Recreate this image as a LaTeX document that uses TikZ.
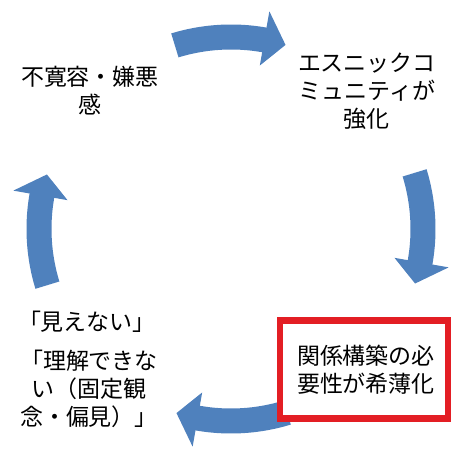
\documentclass[tikz,border=0pt]{standalone}
\usepackage{fontspec}
\setmainfont{Noto Sans CJK JP}
\usetikzlibrary{calc}
\definecolor{arrowblue}{RGB}{79,129,189}
\definecolor{boxred}{RGB}{227,30,36}
\tikzset{
  label text/.style={align=center, inner sep=0pt, font=\fontsize{23}{28}\selectfont},
  redbox/.style={draw=boxred, line width=6.5pt, fill=white, inner sep=0pt,
    minimum width=168.5pt, minimum height=98pt},
  cyc/.style={fill=arrowblue}
}
\newcommand\cyclearrow[1]{%
  \fill[cyc] (#1+17:204.5) arc[start angle=#1+17, end angle=#1-10, radius=204.5]
    -- (#1-10:221) -- (#1-16.5:192) -- (#1-10:166) -- (#1-10:179.5)
    arc[start angle=#1-10, end angle=#1+17, radius=179.5] -- cycle;}
\begin{document}
\begin{tikzpicture}[x=1pt,y=1pt]
  \useasboundingbox (0,0) rectangle (451,451);
  \clip (0,0) rectangle (451,451);
  \fill[white] (0,0) rectangle (451,451);
  \begin{scope}[shift={(231,222)}]
    \cyclearrow{90}
    \cyclearrow{0}
    \cyclearrow{-90}
    \cyclearrow{180}
  \end{scope}
  \node[redbox] (box) at (364.25,81.5) {};
  \node[label text] (e) at (366,81) {関係構築の必\\要性が希薄化};
  \node[label text] (a) at (90,360) {不寛容・嫌悪\\感};
  \node[label text] (b) at (367,360) {エスニックコ\\ミュニティが\\強化};
  \node[label text] (c) at (87,129) {「見えない」};
  \node[label text] (d) at (89,62) {「理解できな\\い（固定観\\念・偏見）」};
\end{tikzpicture}
\end{document}
